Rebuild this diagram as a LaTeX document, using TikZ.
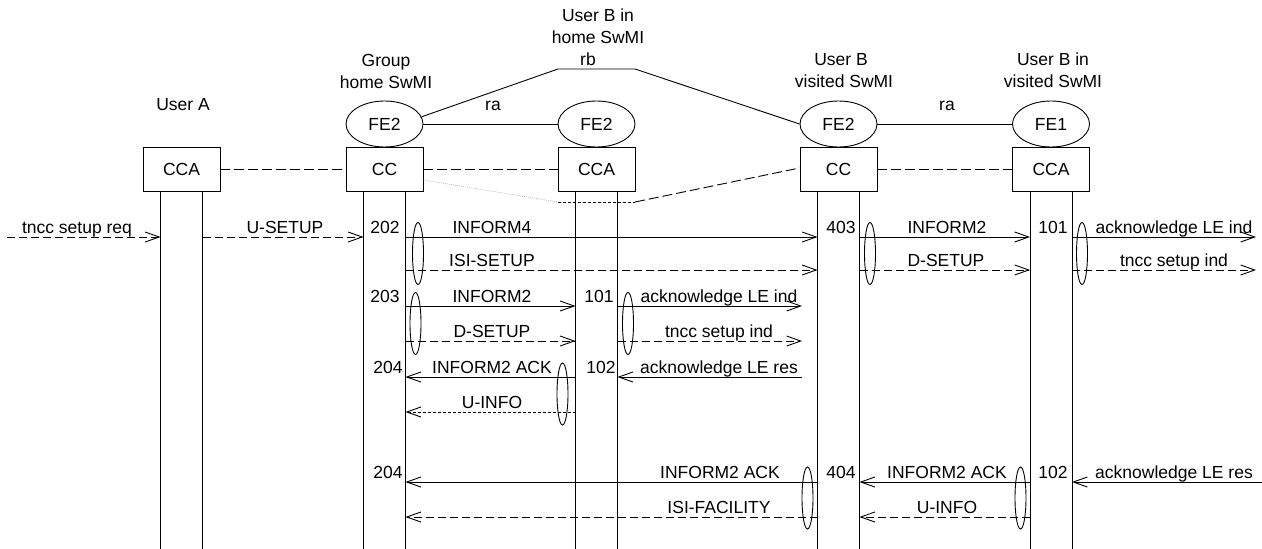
\documentclass[tikz,border=0pt]{standalone}
\usepackage{fontspec}
\setmainfont{Liberation Sans}
\usetikzlibrary{arrows.meta,shapes.geometric}
\begin{document}
\begin{tikzpicture}[x=1pt,y=-1pt,
  every node/.style={font=\fontsize{17.5}{21}\selectfont, inner sep=0pt},
  ln/.style={line width=0.9pt},
  box/.style={draw, line width=0.9pt, minimum width=77pt, minimum height=44pt, inner sep=0pt},
  fe/.style={draw, ellipse, line width=0.9pt, minimum width=77pt, minimum height=46pt, inner sep=0pt},
  msg/.style={line width=0.9pt, -{Straight Barb[length=14pt,width=10pt,line width=0.9pt]}},
  dmsg/.style={msg, dash pattern=on 8pt off 4pt},
  fmsg/.style={msg, dash pattern=on 3pt off 2pt},
  link/.style={line width=0.9pt, dash pattern=on 10pt off 4pt},
  grp/.style={draw, ellipse, line width=0.9pt, minimum width=11pt, minimum height=62pt, inner sep=0pt},
  lbl/.style={anchor=base}
]
\useasboundingbox (0,0) rectangle (1262,549);

% headers
\node[lbl] (hA) at (183,110) {User A};
\node[lbl] (hG1) at (386,66) {Group};
\node[lbl] (hG2) at (386,88) {home SwMI};
\node[lbl] (hH1) at (598,21) {User B in};
\node[lbl] (hH2) at (598,43) {home SwMI};
\node[lbl] (hH3) at (588,65) {rb};
\node[lbl] (hV1) at (841,65) {User B};
\node[lbl] (hV2) at (844,87) {visited SwMI};
\node[lbl] (hW1) at (1053,65) {User B in};
\node[lbl] (hW2) at (1053,87) {visited SwMI};
\node[lbl] (ra1) at (493,110) {ra};
\node[lbl] (ra2) at (947,110) {ra};

% FE ellipses and boxes
\node[fe] (Gfe) at (384.5,124) {FE2};
\node[fe] (Hfe) at (596.5,124) {FE2};
\node[fe] (Vfe) at (838.5,124) {FE2};
\node[fe] (Wfe) at (1051,124) {FE1};
\node[box] (Abox) at (181.5,169) {CCA};
\node[box] (Gbox) at (384.5,169) {CC};
\node[box] (Hbox) at (596.5,169) {CCA};
\node[box] (Vbox) at (838.5,169) {CC};
\node[box] (Wbox) at (1051,169) {CCA};

% relations
\draw[ln] (Gfe) -- (Hfe);
\draw[ln] (Vfe) -- (Wfe);
\coordinate (rb1) at (558,69);
\coordinate (rb2) at (635,69);
\draw[ln] (Gfe.11) -- (rb1) -- (rb2) -- (Vfe.west);
\draw[link] (Abox) -- (Gbox);
\draw[link] (Gbox) -- (Hbox);
\draw[link] (Vbox) -- (Wbox);
\coordinate (d1) at (558,202);
\coordinate (d2) at (635,202);
\draw[gray!70, line width=0.5pt, dash pattern=on 1pt off 1pt] ([yshift=-11pt]Gbox.east) -- (d1);
\draw[ln, dash pattern=on 3pt off 2pt] (d1) -- (d2);
\draw[link] (d2) -- ([yshift=1pt]Vbox.west);

% lifelines
\foreach \b/\n in {Abox/A, Gbox/G, Hbox/H, Vbox/V, Wbox/W}{
  \coordinate (\n1) at ([xshift=-21pt]\b.south);
  \coordinate (\n2) at ([xshift=21pt]\b.south);
  \draw[ln] (\n1) -- ++(0,358);
  \draw[ln] (\n2) -- ++(0,358);
}

% message rows
\coordinate (r1) at (0,237);
\coordinate (r2) at (0,270);
\coordinate (r3) at (0,306);
\coordinate (r4) at (0,341);
\coordinate (r5) at (0,377);
\coordinate (r6) at (0,412);
\coordinate (r7) at (0,482);
\coordinate (r8) at (0,517);
\coordinate (inA) at (7,237);
\coordinate (o1) at (1256,237);
\coordinate (o2) at (1256,270);
\coordinate (m3) at (802,306);
\coordinate (m4) at (802,341);
\coordinate (m5) at (802,377);
\coordinate (o7) at (1262,482);

% group 1
\draw[dmsg] (inA) -- (A1 |- r1);
\node[lbl] (t1) at (77,233) {tncc setup req};
\draw[dmsg] (A2 |- r1) -- (G1 |- r1);
\node[lbl] (t2) at (285,233) {U-SETUP};
\node[lbl] (n202) at (385,233) {202};
\draw[msg] (G2 |- r1) -- (V1 |- r1);
\node[lbl] (t3) at (492,233) {INFORM4};
\draw[dmsg] (G2 |- r2) -- (V1 |- r2);
\node[lbl] (t4) at (492,266) {ISI-SETUP};
\node[grp] (e1) at (418,253.5) {};
\node[lbl] (n403) at (841,233) {403};
\draw[msg] (V2 |- r1) -- (W1 |- r1);
\node[lbl] (t5) at (947,233) {INFORM2};
\draw[dmsg] (V2 |- r2) -- (W1 |- r2);
\node[lbl] (t6) at (946,266) {D-SETUP};
\node[grp] (e2) at (870,253.5) {};
\node[lbl] (n101a) at (1053,233) {101};
\draw[msg] (W2 |- r1) -- (o1);
\node[lbl] (t7) at (1174,233) {acknowledge LE ind};
\draw[dmsg] (W2 |- r2) -- (o2);
\node[lbl] (t8) at (1174,266) {tncc setup ind};
\node[grp] (e3) at (1082,253.5) {};

% group 2
\node[lbl] (n203) at (385,302) {203};
\draw[msg] (G2 |- r3) -- (H1 |- r3);
\node[lbl] (t9) at (492,302) {INFORM2};
\draw[dmsg] (G2 |- r4) -- (H1 |- r4);
\node[lbl] (t10) at (492,337) {D-SETUP};
\node[grp] (e4) at (415.5,323.5) {};
\node[lbl] (n101b) at (599,302) {101};
\draw[msg] (H2 |- r3) -- (m3);
\node[lbl] (t11) at (719,302) {acknowledge LE ind};
\draw[dmsg] (H2 |- r4) -- (m4);
\node[lbl] (t12) at (719,337) {tncc setup ind};
\node[grp] (e5) at (628,323.5) {};

\node[lbl] (n204a) at (388,373) {204};
\draw[msg] (H1 |- r5) -- (G2 |- r5);
\node[lbl] (t13) at (492,373) {INFORM2 ACK};
\draw[fmsg] (H1 |- r6) -- (G2 |- r6);
\node[lbl] (t14) at (492,408) {U-INFO};
\node[grp] (e6) at (562.5,394) {};
\node[lbl] (n102a) at (601,373) {102};
\draw[msg] (m5) -- (H2 |- r5);
\node[lbl] (t15) at (719,373) {acknowledge LE res};

% group 3
\node[lbl] (n204b) at (388,478) {204};
\draw[msg] (V1 |- r7) -- (G2 |- r7);
\node[lbl] (t16) at (720,478) {INFORM2 ACK};
\draw[dmsg] (V1 |- r8) -- (G2 |- r8);
\node[lbl] (t17) at (719,513) {ISI-FACILITY};
\node[grp] (e7) at (807.5,498) {};
\node[lbl] (n404) at (841,478) {404};
\draw[msg] (W1 |- r7) -- (V2 |- r7);
\node[lbl] (t18) at (947,478) {INFORM2 ACK};
\draw[dmsg] (W1 |- r8) -- (V2 |- r8);
\node[lbl] (t19) at (947,513) {U-INFO};
\node[grp] (e8) at (1020.5,498) {};
\node[lbl] (n102b) at (1053,478) {102};
\draw[msg] (o7) -- (W2 |- r7);
\node[lbl] (t20) at (1174,478) {acknowledge LE res};
\end{tikzpicture}
\end{document}
